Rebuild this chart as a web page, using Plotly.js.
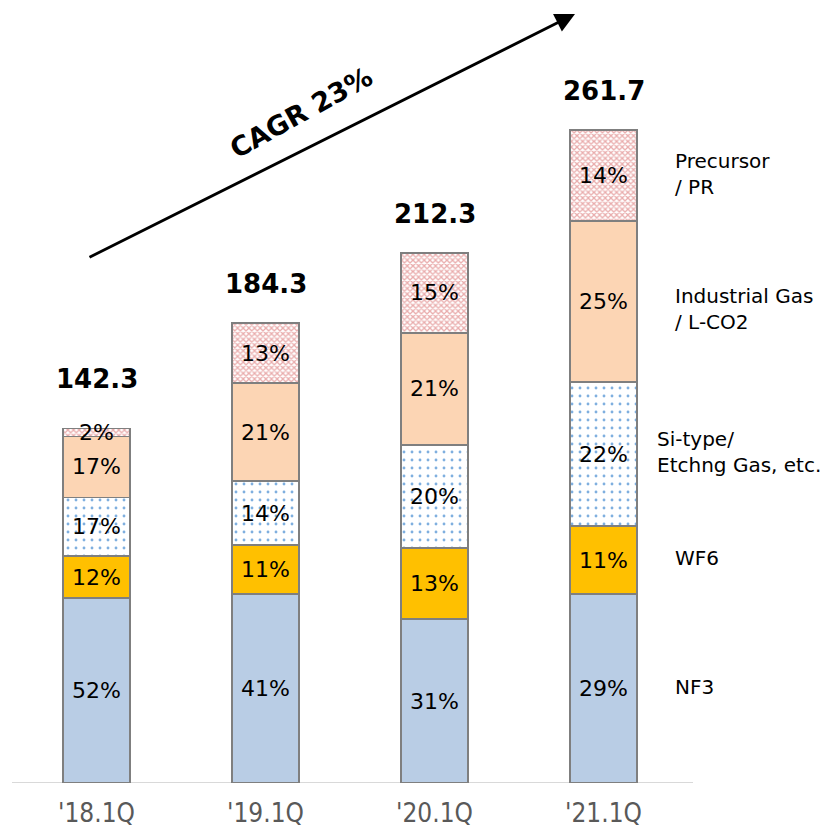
<!DOCTYPE html>
<html>
<head>
<meta charset="utf-8">
<script src="https://cdn.plot.ly/plotly-3.0.1.min.js"></script>
<style>html,body{margin:0;padding:0;background:#fff;}#chart{width:832px;height:833px;}</style>
</head>
<body>
<div id="chart"></div>
<script>
// Data
const categories = ["'18.1Q", "'19.1Q", "'20.1Q", "'21.1Q"];
const totals = [142.3, 184.3, 212.3, 261.7];
const nf3 = [74.1, 75.7, 65.7, 75.7];
const wf6 = [16.8, 19.6, 28.5, 27.3];
const siType = [23.6, 25.7, 41.3, 57.7];
const industrial = [24.4, 39.3, 44.9, 64.5];
const precursor = [3.2, 24.0, 32.1, 36.5];
const nf3Pct = ["52%", "41%", "31%", "29%"];
const wf6Pct = ["12%", "11%", "13%", "11%"];
const siPct = ["17%", "14%", "20%", "22%"];
const indPct = ["17%", "21%", "21%", "25%"];
const precPct = ["2%", "13%", "15%", "14%"];
const segmentNames = ["NF3", "WF6", "Si-type/<br>Etchng Gas, etc.", "Industrial Gas<br>/ L-CO2", "Precursor<br>/ PR"];
const cagrText = "CAGR 23%";

const FONT = "DejaVu Sans, Verdana, sans-serif";
const outline = {color: "#7f7f7f", width: 1.5};
const txtFont = {family: FONT, size: 22, color: "#000"};

function seg(name, y, text, marker) {
  return {
    type: "bar", name: name, x: categories, y: y, text: text,
    textposition: "inside", insidetextanchor: "middle", textangle: 0,
    constraintext: "none", textfont: txtFont, marker: marker,
    hoverinfo: "skip", cliponaxis: false
  };
}

const traces = [
  seg("NF3", nf3, nf3Pct, {color: "#b9cde5", line: outline}),
  seg("WF6", wf6, wf6Pct, {color: "#ffc000", line: outline}),
  seg("Si", siType, siPct, {color: "#ffffff", line: outline,
      pattern: {shape: ".", fgcolor: "#0060c0", bgcolor: "#ffffff", size: 8, solidity: 0.1, fillmode: "overlay"}}),
  seg("Industrial", industrial, indPct, {color: "#fcd5b4", line: outline}),
  seg("Precursor", precursor, precPct, {color: "#ffffff", line: outline,
      pattern: {shape: "x", fgcolor: "#d45a5a", bgcolor: "#ffffff", size: 4, solidity: 0.55, fillmode: "overlay"}})
];

const annotations = [];
// totals above bars
totals.forEach((t, i) => {
  annotations.push({
    x: categories[i], y: t, xref: "x", yref: "y", text: "<b>" + t.toFixed(1) + "</b>",
    showarrow: false, yanchor: "bottom", yshift: i === 0 ? 32 : 22,
    font: {family: FONT, size: 26, color: "#000"}
  });
});
// segment names to the right, aligned with the last bar's segments
const last = categories.length - 1;
const series = [nf3, wf6, siType, industrial, precursor];
let cum = 0;
const nameX = [673 / 832, 673 / 832, 655 / 832, 673 / 832, 673 / 832];
const nameShift = [2, 2, 2, -7, 2];
series.forEach((s, k) => {
  const mid = cum + s[last] / 2;
  cum += s[last];
  annotations.push({
    x: nameX[k], xref: "paper", y: mid, yref: "y", text: segmentNames[k],
    showarrow: false, xanchor: "left", yanchor: "middle", align: "left", yshift: nameShift[k],
    font: {family: FONT, size: 20, color: "#000"}
  });
});
// CAGR arrow
annotations.push({
  x: 575 / 832, y: 1 - 14 / 783, xref: "paper", yref: "paper",
  ax: -487, ay: 244, axref: "pixel", ayref: "pixel",
  showarrow: true, arrowhead: 2, arrowsize: 1.4, arrowwidth: 2.8, arrowcolor: "#000",
  text: ""
});
annotations.push({
  x: 301 / 832, y: 1 - 112 / 783, xref: "paper", yref: "paper",
  xanchor: "center", yanchor: "middle",
  text: "<b>" + cagrText + "</b>", showarrow: false, textangle: -29,
  font: {family: FONT, size: 27, color: "#000"}
});

const layout = {
  width: 832, height: 833,
  margin: {l: 0, r: 0, t: 0, b: 50, pad: 0},
  paper_bgcolor: "#fff", plot_bgcolor: "#fff",
  barmode: "stack", bargap: 0.604, showlegend: false,
  xaxis: {type: "category", range: [-0.571, 4.352], showgrid: false, zeroline: false,
          showline: false, ticks: "", ticklabelstandoff: 12,
          tickfont: {family: "DejaVu Sans Condensed, DejaVu Sans, sans-serif", size: 26, color: "#595959"}},
  yaxis: {range: [0, 313.8], visible: false, fixedrange: true},
  shapes: [{type: "line", xref: "paper", yref: "y", x0: 12 / 832, x1: 693 / 832, y0: 0, y1: 0,
            line: {color: "#d9d9d9", width: 2}, layer: "below"}],
  annotations: annotations
};

Plotly.newPlot("chart", traces, layout, {staticPlot: true, displayModeBar: false});
</script>
</body>
</html>
